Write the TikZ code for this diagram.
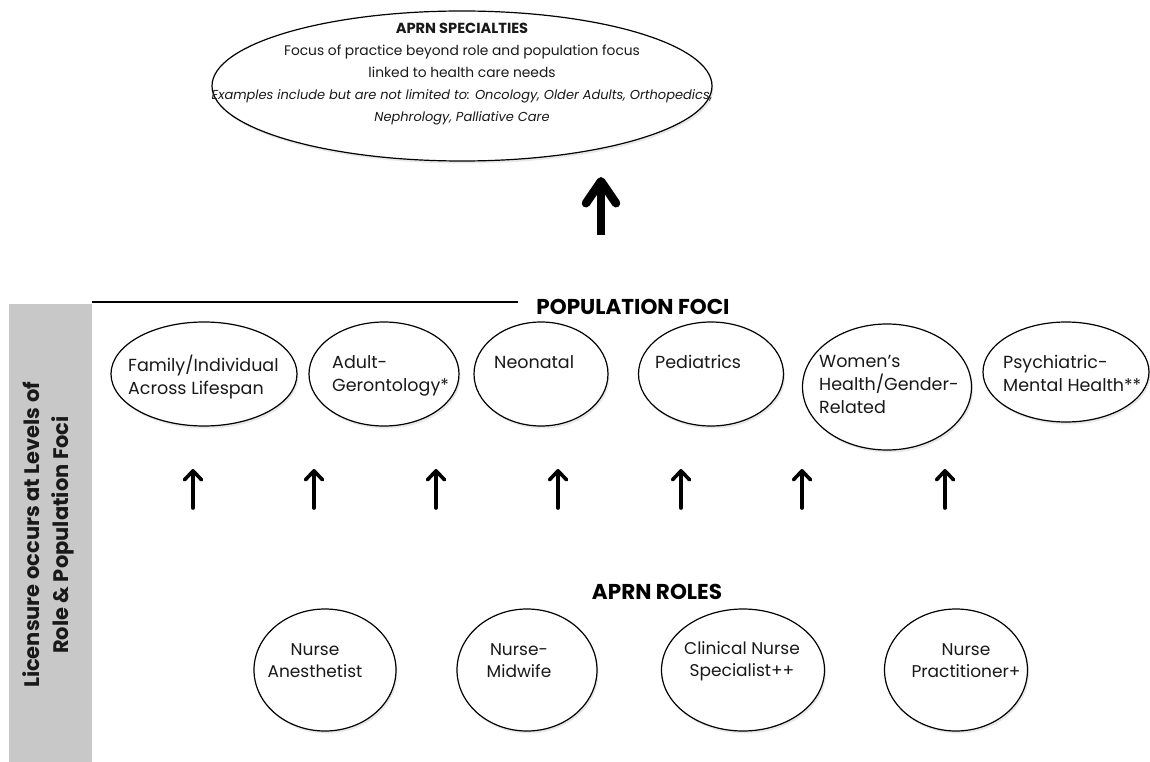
\documentclass[tikz,border=0pt]{standalone}
\usepackage{fontspec}
\setmainfont{Poppins}
\usetikzlibrary{arrows.meta,shadows,shapes.geometric}
\definecolor{bandgrey}{RGB}{200,200,200}
\definecolor{txt}{RGB}{25,25,25}
\tikzset{
  oval/.style={draw, ellipse, line width=1.2pt, inner sep=0pt, fill=white,
    drop shadow={opacity=0.18, shadow xshift=1.5pt, shadow yshift=-2.5pt}},
  ftext/.style={anchor=north west, align=left, inner sep=0pt, text=txt,
    font=\fontsize{17.5}{23}\selectfont},
  rtext/.style={align=center, inner sep=0pt, text=txt,
    font=\fontsize{17}{22}\selectfont},
  uparrow/.style={line width=3.6pt, line cap=round,
    -{Straight Barb[length=9pt,width=17pt,line cap=round,line join=round]}},
  bigarrow/.style={line width=8.5pt,
    -{Straight Barb[length=22pt,width=30pt,line cap=round,line join=round]}},
  heading/.style={font=\bfseries\fontsize{21.5}{24}\selectfont, text=black, inner sep=0pt}
}
\begin{document}
\begin{tikzpicture}[x=1pt,y=-1pt]
\useasboundingbox (0,0) rectangle (1150,762);

% top specialty ellipse
\node[oval, minimum width=500, minimum height=150] (spec) at (462,86) {};
\node[align=center, inner sep=0pt, text=txt, font=\fontsize{13.8}{22}\selectfont] (spectext) at (462,74)
  {{\bfseries\fontsize{14.6}{22}\selectfont APRN SPECIALTIES}\\
   Focus of practice beyond role and population focus\\
   linked to health care needs\\
   \fontsize{13}{22}\selectfont\itshape Examples include but are not limited to: Oncology, Older Adults, Orthopedics,\\
   \fontsize{13}{22}\selectfont\itshape Nephrology, Palliative Care};

% big arrow
\coordinate (b0) at (601,235);
\coordinate (b1) at (601,177);
\draw[bigarrow] (b0) -- (b1);

% left band
\fill[bandgrey] (9,304) rectangle (92,762);
\node[rotate=90, align=center, inner sep=0pt, text=txt,
      font=\bfseries\fontsize{21}{29}\selectfont] (lic) at (48,535)
  {Licensure occurs at Levels of\\ Role \& Population Foci};

% population line and heading
\coordinate (l0) at (92,302);
\coordinate (l1) at (518,302);
\draw[line width=1.4pt] (l0) -- (l1);
\node[heading] (popfoci) at (633,307) {POPULATION FOCI};

% population foci
\node[oval, minimum width=186, minimum height=104] (fam) at (204,374) {};
\node[ftext] at (128,355) {Family/Individual\\Across Lifespan};
\node[oval, minimum width=150, minimum height=104] (adult) at (384,374) {};
\node[ftext] at (332,355) {Adult-\\Gerontology*};
\node[oval, minimum width=134, minimum height=104] (neo) at (541,374) {};
\node[ftext] at (494,355) {Neonatal};
\node[oval, minimum width=145, minimum height=104] (ped) at (711,374) {};
\node[ftext] at (655,355) {Pediatrics};
\node[oval, minimum width=169, minimum height=126] (women) at (887,387) {};
\node[ftext] at (819,355) {Women’s\\Health/Gender-\\Related};
\node[oval, minimum width=166, minimum height=100] (psych) at (1066,372) {};
\node[ftext] at (1003,355) {Psychiatric-\\Mental Health**};

% small arrows
\foreach \i/\x in {1/193,2/314,3/436,4/558,5/681,6/802,7/945}{
  \coordinate (s\i) at (\x,508);
  \coordinate (t\i) at (\x,469);
  \draw[uparrow] (s\i) -- (t\i);
}

% roles
\node[heading] (roles) at (657,592) {APRN ROLES};
\node[oval, minimum width=142, minimum height=122] (crna) at (325,670) {};
\node[rtext] at (315,661) {Nurse\\Anesthetist};
\node[oval, minimum width=140, minimum height=122] (cnm) at (527,670) {};
\node[rtext] at (519,661) {Nurse-\\Midwife};
\node[oval, minimum width=163, minimum height=122] (cns) at (743,670) {};
\node[rtext] at (742,661) {Clinical Nurse\\Specialist++};
\node[oval, minimum width=143, minimum height=122] (np) at (956,670) {};
\node[rtext] at (966,661) {Nurse\\Practitioner+};
\end{tikzpicture}
\end{document}
